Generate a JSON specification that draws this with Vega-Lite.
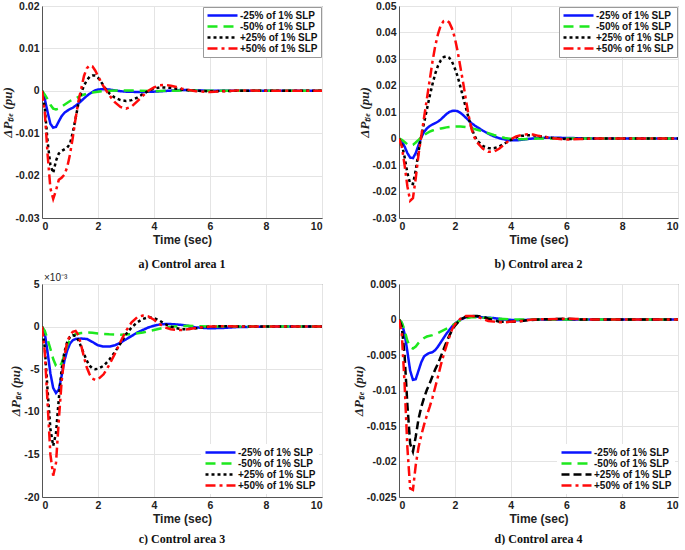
{
  "$schema": "https://vega.github.io/schema/vega-lite/v6.json",
  "padding": {"left": 0, "top": 0, "right": 0, "bottom": 0},
  "background": "white",
  "columns": 2,
  "spacing": {"row": 2, "column": 28},
  "resolve": {
    "scale": {"color": "independent", "strokeDash": "independent"},
    "legend": {"color": "independent", "strokeDash": "independent"}
  },
  "datasets": {
    "a": [
      {"t":0,"s":"m25","v":0},{"t":0.1,"s":"m25","v":-0.002},{"t":0.2,"s":"m25","v":-0.005},{"t":0.3,"s":"m25","v":-0.0078},{"t":0.4,"s":"m25","v":-0.0087},{"t":0.5,"s":"m25","v":-0.0085},{"t":0.6,"s":"m25","v":-0.0072},{"t":0.7,"s":"m25","v":-0.006},{"t":0.8,"s":"m25","v":-0.0052},{"t":0.9,"s":"m25","v":-0.0047},{"t":1.0,"s":"m25","v":-0.0043},{"t":1.1,"s":"m25","v":-0.004},{"t":1.2,"s":"m25","v":-0.0035},{"t":1.3,"s":"m25","v":-0.003},{"t":1.4,"s":"m25","v":-0.0024},{"t":1.5,"s":"m25","v":-0.0018},{"t":1.6,"s":"m25","v":-0.0012},{"t":1.7,"s":"m25","v":-0.0007},{"t":1.8,"s":"m25","v":-0.0003},{"t":1.9,"s":"m25","v":0.0001},{"t":2.0,"s":"m25","v":0.0003},{"t":2.2,"s":"m25","v":0.0004},{"t":2.4,"s":"m25","v":0.0003},{"t":2.6,"s":"m25","v":0.0001},{"t":2.8,"s":"m25","v":-0.0001},{"t":3.0,"s":"m25","v":-0.0002},{"t":3.5,"s":"m25","v":-0.0003},{"t":4.0,"s":"m25","v":-0.0002},{"t":4.5,"s":"m25","v":0},{"t":5.0,"s":"m25","v":0.0002},{"t":5.5,"s":"m25","v":0.0001},{"t":6,"s":"m25","v":0},{"t":8,"s":"m25","v":0},{"t":10,"s":"m25","v":0},
      {"t":0,"s":"m50","v":0},{"t":0.1,"s":"m50","v":-0.0009},{"t":0.2,"s":"m50","v":-0.002},{"t":0.3,"s":"m50","v":-0.0033},{"t":0.4,"s":"m50","v":-0.0042},{"t":0.5,"s":"m50","v":-0.0044},{"t":0.6,"s":"m50","v":-0.0042},{"t":0.8,"s":"m50","v":-0.0033},{"t":1.0,"s":"m50","v":-0.0024},{"t":1.2,"s":"m50","v":-0.0018},{"t":1.4,"s":"m50","v":-0.0011},{"t":1.6,"s":"m50","v":-0.0007},{"t":1.8,"s":"m50","v":-0.0004},{"t":2.0,"s":"m50","v":-0.0002},{"t":2.4,"s":"m50","v":0},{"t":3.0,"s":"m50","v":0.0001},{"t":3.5,"s":"m50","v":0},{"t":4.0,"s":"m50","v":-0.0001},{"t":5.0,"s":"m50","v":0.0001},{"t":6,"s":"m50","v":0},{"t":10,"s":"m50","v":0},
      {"t":0,"s":"p25","v":0},{"t":0.1,"s":"p25","v":-0.004},{"t":0.2,"s":"p25","v":-0.012},{"t":0.3,"s":"p25","v":-0.0175},{"t":0.4,"s":"p25","v":-0.0194},{"t":0.5,"s":"p25","v":-0.0165},{"t":0.6,"s":"p25","v":-0.0148},{"t":0.7,"s":"p25","v":-0.0142},{"t":0.8,"s":"p25","v":-0.0138},{"t":0.9,"s":"p25","v":-0.0134},{"t":1.0,"s":"p25","v":-0.0125},{"t":1.1,"s":"p25","v":-0.0098},{"t":1.2,"s":"p25","v":-0.0065},{"t":1.3,"s":"p25","v":-0.003},{"t":1.4,"s":"p25","v":-0.0005},{"t":1.5,"s":"p25","v":0.0012},{"t":1.6,"s":"p25","v":0.0025},{"t":1.7,"s":"p25","v":0.0033},{"t":1.8,"s":"p25","v":0.0036},{"t":1.9,"s":"p25","v":0.0036},{"t":2.0,"s":"p25","v":0.0031},{"t":2.1,"s":"p25","v":0.0022},{"t":2.2,"s":"p25","v":0.0012},{"t":2.3,"s":"p25","v":0.0002},{"t":2.4,"s":"p25","v":-0.0006},{"t":2.6,"s":"p25","v":-0.0016},{"t":2.8,"s":"p25","v":-0.0022},{"t":3.0,"s":"p25","v":-0.0024},{"t":3.2,"s":"p25","v":-0.0022},{"t":3.4,"s":"p25","v":-0.0016},{"t":3.6,"s":"p25","v":-0.0008},{"t":3.8,"s":"p25","v":0},{"t":4.0,"s":"p25","v":0.0005},{"t":4.2,"s":"p25","v":0.0008},{"t":4.4,"s":"p25","v":0.0008},{"t":4.6,"s":"p25","v":0.0007},{"t":4.8,"s":"p25","v":0.0005},{"t":5.0,"s":"p25","v":0.0003},{"t":5.5,"s":"p25","v":0},{"t":6,"s":"p25","v":-0.0001},{"t":7,"s":"p25","v":0},{"t":10,"s":"p25","v":0},
      {"t":0,"s":"p50","v":0},{"t":0.1,"s":"p50","v":-0.005},{"t":0.2,"s":"p50","v":-0.015},{"t":0.3,"s":"p50","v":-0.023},{"t":0.4,"s":"p50","v":-0.0255},{"t":0.5,"s":"p50","v":-0.0235},{"t":0.6,"s":"p50","v":-0.021},{"t":0.7,"s":"p50","v":-0.0205},{"t":0.8,"s":"p50","v":-0.0198},{"t":0.9,"s":"p50","v":-0.018},{"t":1.0,"s":"p50","v":-0.015},{"t":1.1,"s":"p50","v":-0.011},{"t":1.2,"s":"p50","v":-0.0065},{"t":1.3,"s":"p50","v":-0.0025},{"t":1.4,"s":"p50","v":0.0005},{"t":1.5,"s":"p50","v":0.0035},{"t":1.6,"s":"p50","v":0.0053},{"t":1.7,"s":"p50","v":0.006},{"t":1.8,"s":"p50","v":0.0058},{"t":1.9,"s":"p50","v":0.0048},{"t":2.0,"s":"p50","v":0.0035},{"t":2.1,"s":"p50","v":0.0022},{"t":2.2,"s":"p50","v":0.001},{"t":2.3,"s":"p50","v":0},{"t":2.4,"s":"p50","v":-0.001},{"t":2.6,"s":"p50","v":-0.0027},{"t":2.8,"s":"p50","v":-0.0038},{"t":3.0,"s":"p50","v":-0.0042},{"t":3.2,"s":"p50","v":-0.0037},{"t":3.4,"s":"p50","v":-0.0025},{"t":3.6,"s":"p50","v":-0.0012},{"t":3.8,"s":"p50","v":0},{"t":4.0,"s":"p50","v":0.0008},{"t":4.2,"s":"p50","v":0.0013},{"t":4.4,"s":"p50","v":0.0014},{"t":4.6,"s":"p50","v":0.0012},{"t":4.8,"s":"p50","v":0.0009},{"t":5.0,"s":"p50","v":0.0005},{"t":5.5,"s":"p50","v":-0.0001},{"t":6.0,"s":"p50","v":-0.0003},{"t":6.5,"s":"p50","v":-0.0001},{"t":7,"s":"p50","v":0.0001},{"t":8,"s":"p50","v":0},{"t":10,"s":"p50","v":0}
    ],
    "b": [
      {"t":0,"s":"m25","v":0},{"t":0.1,"s":"m25","v":-0.001},{"t":0.2,"s":"m25","v":-0.003},{"t":0.3,"s":"m25","v":-0.0055},{"t":0.4,"s":"m25","v":-0.0072},{"t":0.5,"s":"m25","v":-0.0074},{"t":0.6,"s":"m25","v":-0.0055},{"t":0.7,"s":"m25","v":-0.0025},{"t":0.8,"s":"m25","v":0.0005},{"t":0.9,"s":"m25","v":0.0025},{"t":1.0,"s":"m25","v":0.0038},{"t":1.1,"s":"m25","v":0.0047},{"t":1.2,"s":"m25","v":0.0053},{"t":1.3,"s":"m25","v":0.0058},{"t":1.4,"s":"m25","v":0.0064},{"t":1.5,"s":"m25","v":0.0072},{"t":1.6,"s":"m25","v":0.0082},{"t":1.7,"s":"m25","v":0.0092},{"t":1.8,"s":"m25","v":0.01},{"t":1.9,"s":"m25","v":0.0104},{"t":2.0,"s":"m25","v":0.0105},{"t":2.1,"s":"m25","v":0.0103},{"t":2.2,"s":"m25","v":0.0097},{"t":2.3,"s":"m25","v":0.0088},{"t":2.4,"s":"m25","v":0.0078},{"t":2.5,"s":"m25","v":0.0068},{"t":2.6,"s":"m25","v":0.0058},{"t":2.7,"s":"m25","v":0.005},{"t":2.8,"s":"m25","v":0.0043},{"t":3.0,"s":"m25","v":0.003},{"t":3.2,"s":"m25","v":0.0018},{"t":3.4,"s":"m25","v":0.0008},{"t":3.6,"s":"m25","v":0.0001},{"t":3.8,"s":"m25","v":-0.0004},{"t":4.0,"s":"m25","v":-0.0007},{"t":4.2,"s":"m25","v":-0.0007},{"t":4.4,"s":"m25","v":-0.0005},{"t":4.6,"s":"m25","v":-0.0002},{"t":4.8,"s":"m25","v":0},{"t":5.0,"s":"m25","v":0.0002},{"t":5.5,"s":"m25","v":0.0003},{"t":6.0,"s":"m25","v":0.0002},{"t":6.5,"s":"m25","v":0.0001},{"t":7,"s":"m25","v":0},{"t":10,"s":"m25","v":0},
      {"t":0,"s":"m50","v":0},{"t":0.1,"s":"m50","v":-0.0005},{"t":0.2,"s":"m50","v":-0.0013},{"t":0.3,"s":"m50","v":-0.0022},{"t":0.4,"s":"m50","v":-0.0026},{"t":0.5,"s":"m50","v":-0.0024},{"t":0.6,"s":"m50","v":-0.0015},{"t":0.7,"s":"m50","v":-0.0005},{"t":0.8,"s":"m50","v":0.0005},{"t":0.9,"s":"m50","v":0.0013},{"t":1.0,"s":"m50","v":0.002},{"t":1.1,"s":"m50","v":0.0026},{"t":1.2,"s":"m50","v":0.003},{"t":1.3,"s":"m50","v":0.0033},{"t":1.4,"s":"m50","v":0.0036},{"t":1.5,"s":"m50","v":0.0038},{"t":1.6,"s":"m50","v":0.004},{"t":1.7,"s":"m50","v":0.0042},{"t":1.8,"s":"m50","v":0.0043},{"t":1.9,"s":"m50","v":0.0044},{"t":2.0,"s":"m50","v":0.0045},{"t":2.2,"s":"m50","v":0.0045},{"t":2.4,"s":"m50","v":0.0043},{"t":2.6,"s":"m50","v":0.0039},{"t":2.8,"s":"m50","v":0.0033},{"t":3.0,"s":"m50","v":0.0027},{"t":3.2,"s":"m50","v":0.002},{"t":3.4,"s":"m50","v":0.0013},{"t":3.6,"s":"m50","v":0.0007},{"t":3.8,"s":"m50","v":0.0002},{"t":4.0,"s":"m50","v":-0.0001},{"t":4.2,"s":"m50","v":-0.0003},{"t":4.4,"s":"m50","v":-0.0003},{"t":4.6,"s":"m50","v":-0.0002},{"t":4.8,"s":"m50","v":-0.0001},{"t":5,"s":"m50","v":0},{"t":10,"s":"m50","v":0},
      {"t":0,"s":"p25","v":0},{"t":0.1,"s":"p25","v":-0.002},{"t":0.2,"s":"p25","v":-0.007},{"t":0.3,"s":"p25","v":-0.013},{"t":0.4,"s":"p25","v":-0.017},{"t":0.5,"s":"p25","v":-0.0172},{"t":0.6,"s":"p25","v":-0.012},{"t":0.7,"s":"p25","v":-0.005},{"t":0.8,"s":"p25","v":0.001},{"t":0.9,"s":"p25","v":0.006},{"t":1.0,"s":"p25","v":0.011},{"t":1.1,"s":"p25","v":0.016},{"t":1.2,"s":"p25","v":0.0205},{"t":1.3,"s":"p25","v":0.0245},{"t":1.4,"s":"p25","v":0.0275},{"t":1.5,"s":"p25","v":0.0295},{"t":1.6,"s":"p25","v":0.0307},{"t":1.7,"s":"p25","v":0.031},{"t":1.8,"s":"p25","v":0.0305},{"t":1.9,"s":"p25","v":0.029},{"t":2.0,"s":"p25","v":0.0265},{"t":2.1,"s":"p25","v":0.0235},{"t":2.2,"s":"p25","v":0.0195},{"t":2.3,"s":"p25","v":0.0155},{"t":2.4,"s":"p25","v":0.0115},{"t":2.5,"s":"p25","v":0.0075},{"t":2.6,"s":"p25","v":0.004},{"t":2.7,"s":"p25","v":0.0012},{"t":2.8,"s":"p25","v":-0.0008},{"t":3.0,"s":"p25","v":-0.0028},{"t":3.2,"s":"p25","v":-0.0036},{"t":3.4,"s":"p25","v":-0.0037},{"t":3.6,"s":"p25","v":-0.003},{"t":3.8,"s":"p25","v":-0.0018},{"t":4.0,"s":"p25","v":-0.0006},{"t":4.2,"s":"p25","v":0.0004},{"t":4.4,"s":"p25","v":0.001},{"t":4.6,"s":"p25","v":0.0012},{"t":4.8,"s":"p25","v":0.0012},{"t":5.0,"s":"p25","v":0.0009},{"t":5.5,"s":"p25","v":0.0002},{"t":6.0,"s":"p25","v":-0.0002},{"t":6.5,"s":"p25","v":-0.0001},{"t":7,"s":"p25","v":0},{"t":10,"s":"p25","v":0},
      {"t":0,"s":"p50","v":0},{"t":0.1,"s":"p50","v":-0.003},{"t":0.2,"s":"p50","v":-0.01},{"t":0.3,"s":"p50","v":-0.018},{"t":0.4,"s":"p50","v":-0.0235},{"t":0.5,"s":"p50","v":-0.0225},{"t":0.6,"s":"p50","v":-0.015},{"t":0.7,"s":"p50","v":-0.006},{"t":0.8,"s":"p50","v":0.001},{"t":0.9,"s":"p50","v":0.008},{"t":1.0,"s":"p50","v":0.015},{"t":1.1,"s":"p50","v":0.022},{"t":1.2,"s":"p50","v":0.029},{"t":1.3,"s":"p50","v":0.035},{"t":1.4,"s":"p50","v":0.0395},{"t":1.5,"s":"p50","v":0.0428},{"t":1.6,"s":"p50","v":0.0443},{"t":1.7,"s":"p50","v":0.0446},{"t":1.8,"s":"p50","v":0.0438},{"t":1.9,"s":"p50","v":0.0415},{"t":2.0,"s":"p50","v":0.038},{"t":2.1,"s":"p50","v":0.033},{"t":2.2,"s":"p50","v":0.027},{"t":2.3,"s":"p50","v":0.021},{"t":2.4,"s":"p50","v":0.0145},{"t":2.5,"s":"p50","v":0.0085},{"t":2.6,"s":"p50","v":0.0035},{"t":2.7,"s":"p50","v":0.0005},{"t":2.8,"s":"p50","v":-0.0015},{"t":3.0,"s":"p50","v":-0.0038},{"t":3.2,"s":"p50","v":-0.005},{"t":3.4,"s":"p50","v":-0.005},{"t":3.6,"s":"p50","v":-0.0038},{"t":3.8,"s":"p50","v":-0.002},{"t":4.0,"s":"p50","v":-0.0003},{"t":4.2,"s":"p50","v":0.0008},{"t":4.4,"s":"p50","v":0.0013},{"t":4.6,"s":"p50","v":0.0016},{"t":4.8,"s":"p50","v":0.0015},{"t":5.0,"s":"p50","v":0.001},{"t":5.5,"s":"p50","v":0.0001},{"t":6.0,"s":"p50","v":-0.0004},{"t":6.5,"s":"p50","v":-0.0002},{"t":7,"s":"p50","v":0},{"t":10,"s":"p50","v":0}
    ],
    "c": [
      {"t":0,"s":"m25","v":0},{"t":0.1,"s":"m25","v":-0.8},{"t":0.2,"s":"m25","v":-3},{"t":0.3,"s":"m25","v":-5.5},{"t":0.4,"s":"m25","v":-7.2},{"t":0.5,"s":"m25","v":-7.8},{"t":0.6,"s":"m25","v":-7.4},{"t":0.7,"s":"m25","v":-5.8},{"t":0.8,"s":"m25","v":-4.0},{"t":0.9,"s":"m25","v":-2.8},{"t":1.0,"s":"m25","v":-2.0},{"t":1.1,"s":"m25","v":-1.6},{"t":1.2,"s":"m25","v":-1.45},{"t":1.4,"s":"m25","v":-1.4},{"t":1.6,"s":"m25","v":-1.45},{"t":1.8,"s":"m25","v":-1.8},{"t":2.0,"s":"m25","v":-2.2},{"t":2.2,"s":"m25","v":-2.35},{"t":2.4,"s":"m25","v":-2.35},{"t":2.6,"s":"m25","v":-2.2},{"t":2.8,"s":"m25","v":-1.9},{"t":3.0,"s":"m25","v":-1.5},{"t":3.2,"s":"m25","v":-1.1},{"t":3.4,"s":"m25","v":-0.7},{"t":3.6,"s":"m25","v":-0.4},{"t":3.8,"s":"m25","v":-0.1},{"t":4.0,"s":"m25","v":0.1},{"t":4.2,"s":"m25","v":0.25},{"t":4.4,"s":"m25","v":0.3},{"t":4.6,"s":"m25","v":0.3},{"t":4.8,"s":"m25","v":0.25},{"t":5.0,"s":"m25","v":0.2},{"t":5.2,"s":"m25","v":0.1},{"t":5.5,"s":"m25","v":-0.1},{"t":6.0,"s":"m25","v":-0.2},{"t":6.5,"s":"m25","v":-0.15},{"t":7,"s":"m25","v":-0.05},{"t":8,"s":"m25","v":0},{"t":10,"s":"m25","v":0},
      {"t":0,"s":"m50","v":0},{"t":0.1,"s":"m50","v":-0.5},{"t":0.2,"s":"m50","v":-1.5},{"t":0.3,"s":"m50","v":-2.6},{"t":0.4,"s":"m50","v":-3.8},{"t":0.5,"s":"m50","v":-4.6},{"t":0.6,"s":"m50","v":-4.8},{"t":0.7,"s":"m50","v":-4.3},{"t":0.8,"s":"m50","v":-3.3},{"t":0.9,"s":"m50","v":-2.2},{"t":1.0,"s":"m50","v":-1.5},{"t":1.1,"s":"m50","v":-1.1},{"t":1.2,"s":"m50","v":-0.9},{"t":1.4,"s":"m50","v":-0.75},{"t":1.6,"s":"m50","v":-0.7},{"t":1.8,"s":"m50","v":-0.72},{"t":2.0,"s":"m50","v":-0.8},{"t":2.4,"s":"m50","v":-0.9},{"t":2.8,"s":"m50","v":-0.95},{"t":3.2,"s":"m50","v":-0.9},{"t":3.6,"s":"m50","v":-0.7},{"t":4.0,"s":"m50","v":-0.4},{"t":4.4,"s":"m50","v":-0.1},{"t":4.8,"s":"m50","v":0.05},{"t":5.2,"s":"m50","v":0.1},{"t":5.6,"s":"m50","v":0.05},{"t":6,"s":"m50","v":0},{"t":10,"s":"m50","v":0},
      {"t":0,"s":"p25","v":0},{"t":0.1,"s":"p25","v":-2.5},{"t":0.2,"s":"p25","v":-7.5},{"t":0.3,"s":"p25","v":-12},{"t":0.4,"s":"p25","v":-14},{"t":0.5,"s":"p25","v":-12.5},{"t":0.6,"s":"p25","v":-8.5},{"t":0.7,"s":"p25","v":-5},{"t":0.8,"s":"p25","v":-3},{"t":0.9,"s":"p25","v":-1.8},{"t":1.0,"s":"p25","v":-1.2},{"t":1.1,"s":"p25","v":-1.0},{"t":1.2,"s":"p25","v":-1.1},{"t":1.3,"s":"p25","v":-1.6},{"t":1.4,"s":"p25","v":-2.4},{"t":1.5,"s":"p25","v":-3.2},{"t":1.6,"s":"p25","v":-4.0},{"t":1.7,"s":"p25","v":-4.6},{"t":1.8,"s":"p25","v":-4.9},{"t":1.9,"s":"p25","v":-5.0},{"t":2.0,"s":"p25","v":-4.95},{"t":2.2,"s":"p25","v":-4.6},{"t":2.4,"s":"p25","v":-3.9},{"t":2.6,"s":"p25","v":-3.0},{"t":2.8,"s":"p25","v":-2.0},{"t":3.0,"s":"p25","v":-0.9},{"t":3.2,"s":"p25","v":-0.1},{"t":3.4,"s":"p25","v":0.5},{"t":3.6,"s":"p25","v":0.9},{"t":3.8,"s":"p25","v":1.1},{"t":4.0,"s":"p25","v":1.0},{"t":4.2,"s":"p25","v":0.7},{"t":4.4,"s":"p25","v":0.3},{"t":4.6,"s":"p25","v":0},{"t":4.8,"s":"p25","v":-0.2},{"t":5.0,"s":"p25","v":-0.3},{"t":5.2,"s":"p25","v":-0.3},{"t":5.5,"s":"p25","v":-0.2},{"t":6.0,"s":"p25","v":0},{"t":6.5,"s":"p25","v":0.05},{"t":7,"s":"p25","v":0},{"t":10,"s":"p25","v":0},
      {"t":0,"s":"p50","v":0},{"t":0.1,"s":"p50","v":-3},{"t":0.2,"s":"p50","v":-9},{"t":0.3,"s":"p50","v":-15},{"t":0.4,"s":"p50","v":-17.5},{"t":0.5,"s":"p50","v":-16},{"t":0.6,"s":"p50","v":-11},{"t":0.7,"s":"p50","v":-6.5},{"t":0.8,"s":"p50","v":-3.5},{"t":0.9,"s":"p50","v":-1.8},{"t":1.0,"s":"p50","v":-1.0},{"t":1.1,"s":"p50","v":-0.6},{"t":1.2,"s":"p50","v":-0.5},{"t":1.3,"s":"p50","v":-1.0},{"t":1.4,"s":"p50","v":-2.2},{"t":1.5,"s":"p50","v":-3.6},{"t":1.6,"s":"p50","v":-4.8},{"t":1.7,"s":"p50","v":-5.6},{"t":1.8,"s":"p50","v":-6.1},{"t":1.9,"s":"p50","v":-6.25},{"t":2.0,"s":"p50","v":-6.2},{"t":2.2,"s":"p50","v":-5.6},{"t":2.4,"s":"p50","v":-4.5},{"t":2.6,"s":"p50","v":-3.2},{"t":2.8,"s":"p50","v":-1.8},{"t":3.0,"s":"p50","v":-0.5},{"t":3.2,"s":"p50","v":0.5},{"t":3.4,"s":"p50","v":1.1},{"t":3.6,"s":"p50","v":1.3},{"t":3.8,"s":"p50","v":1.2},{"t":4.0,"s":"p50","v":0.8},{"t":4.2,"s":"p50","v":0.3},{"t":4.4,"s":"p50","v":-0.1},{"t":4.6,"s":"p50","v":-0.3},{"t":4.8,"s":"p50","v":-0.4},{"t":5.0,"s":"p50","v":-0.4},{"t":5.2,"s":"p50","v":-0.3},{"t":5.5,"s":"p50","v":-0.15},{"t":6,"s":"p50","v":0},{"t":6.5,"s":"p50","v":0.05},{"t":7,"s":"p50","v":0},{"t":10,"s":"p50","v":0}
    ],
    "d": [
      {"t":0,"s":"m25","v":0},{"t":0.1,"s":"m25","v":-0.0005},{"t":0.2,"s":"m25","v":-0.002},{"t":0.3,"s":"m25","v":-0.0045},{"t":0.4,"s":"m25","v":-0.0072},{"t":0.5,"s":"m25","v":-0.0085},{"t":0.6,"s":"m25","v":-0.0084},{"t":0.7,"s":"m25","v":-0.0072},{"t":0.8,"s":"m25","v":-0.006},{"t":0.9,"s":"m25","v":-0.0052},{"t":1.0,"s":"m25","v":-0.0049},{"t":1.1,"s":"m25","v":-0.0047},{"t":1.2,"s":"m25","v":-0.0046},{"t":1.3,"s":"m25","v":-0.0043},{"t":1.4,"s":"m25","v":-0.0038},{"t":1.5,"s":"m25","v":-0.0032},{"t":1.6,"s":"m25","v":-0.0026},{"t":1.7,"s":"m25","v":-0.002},{"t":1.8,"s":"m25","v":-0.0015},{"t":1.9,"s":"m25","v":-0.001},{"t":2.0,"s":"m25","v":-0.0006},{"t":2.2,"s":"m25","v":0},{"t":2.4,"s":"m25","v":0.0003},{"t":2.6,"s":"m25","v":0.0004},{"t":2.8,"s":"m25","v":0.0004},{"t":3.0,"s":"m25","v":0.0003},{"t":3.4,"s":"m25","v":0.0002},{"t":3.8,"s":"m25","v":0},{"t":4.2,"s":"m25","v":-0.0001},{"t":5,"s":"m25","v":0},{"t":10,"s":"m25","v":0},
      {"t":0,"s":"m50","v":0},{"t":0.1,"s":"m50","v":-0.0004},{"t":0.2,"s":"m50","v":-0.0015},{"t":0.3,"s":"m50","v":-0.003},{"t":0.4,"s":"m50","v":-0.0039},{"t":0.5,"s":"m50","v":-0.0041},{"t":0.6,"s":"m50","v":-0.0038},{"t":0.7,"s":"m50","v":-0.0033},{"t":0.8,"s":"m50","v":-0.0029},{"t":0.9,"s":"m50","v":-0.0026},{"t":1.0,"s":"m50","v":-0.0024},{"t":1.2,"s":"m50","v":-0.0022},{"t":1.4,"s":"m50","v":-0.0019},{"t":1.6,"s":"m50","v":-0.0015},{"t":1.8,"s":"m50","v":-0.0011},{"t":2.0,"s":"m50","v":-0.0006},{"t":2.2,"s":"m50","v":-0.0001},{"t":2.4,"s":"m50","v":0.0002},{"t":2.6,"s":"m50","v":0.0003},{"t":2.8,"s":"m50","v":0.0003},{"t":3.2,"s":"m50","v":0.0002},{"t":3.6,"s":"m50","v":0.0001},{"t":4.0,"s":"m50","v":0},{"t":10,"s":"m50","v":0},
      {"t":0,"s":"p25","v":0},{"t":0.1,"s":"p25","v":-0.001},{"t":0.2,"s":"p25","v":-0.005},{"t":0.3,"s":"p25","v":-0.012},{"t":0.4,"s":"p25","v":-0.0175},{"t":0.5,"s":"p25","v":-0.0186},{"t":0.6,"s":"p25","v":-0.0165},{"t":0.7,"s":"p25","v":-0.014},{"t":0.8,"s":"p25","v":-0.0123},{"t":0.9,"s":"p25","v":-0.011},{"t":1.0,"s":"p25","v":-0.0099},{"t":1.1,"s":"p25","v":-0.009},{"t":1.2,"s":"p25","v":-0.008},{"t":1.3,"s":"p25","v":-0.007},{"t":1.4,"s":"p25","v":-0.0062},{"t":1.5,"s":"p25","v":-0.0052},{"t":1.6,"s":"p25","v":-0.0042},{"t":1.7,"s":"p25","v":-0.0032},{"t":1.8,"s":"p25","v":-0.0023},{"t":1.9,"s":"p25","v":-0.0015},{"t":2.0,"s":"p25","v":-0.0009},{"t":2.2,"s":"p25","v":0},{"t":2.4,"s":"p25","v":0.0004},{"t":2.6,"s":"p25","v":0.0005},{"t":2.8,"s":"p25","v":0.0005},{"t":3.0,"s":"p25","v":0.0004},{"t":3.2,"s":"p25","v":0.0001},{"t":3.4,"s":"p25","v":-0.0001},{"t":3.6,"s":"p25","v":-0.0003},{"t":3.8,"s":"p25","v":-0.0003},{"t":4.2,"s":"p25","v":-0.0003},{"t":4.6,"s":"p25","v":-0.0001},{"t":5,"s":"p25","v":0},{"t":6,"s":"p25","v":0.0001},{"t":6.5,"s":"p25","v":0},{"t":10,"s":"p25","v":0},
      {"t":0,"s":"p50","v":0},{"t":0.1,"s":"p50","v":-0.002},{"t":0.2,"s":"p50","v":-0.009},{"t":0.3,"s":"p50","v":-0.018},{"t":0.4,"s":"p50","v":-0.0238},{"t":0.5,"s":"p50","v":-0.024},{"t":0.6,"s":"p50","v":-0.0205},{"t":0.7,"s":"p50","v":-0.018},{"t":0.8,"s":"p50","v":-0.0163},{"t":0.9,"s":"p50","v":-0.0148},{"t":1.0,"s":"p50","v":-0.0135},{"t":1.1,"s":"p50","v":-0.0123},{"t":1.2,"s":"p50","v":-0.011},{"t":1.3,"s":"p50","v":-0.0095},{"t":1.4,"s":"p50","v":-0.008},{"t":1.5,"s":"p50","v":-0.0064},{"t":1.6,"s":"p50","v":-0.005},{"t":1.7,"s":"p50","v":-0.0037},{"t":1.8,"s":"p50","v":-0.0025},{"t":1.9,"s":"p50","v":-0.0014},{"t":2.0,"s":"p50","v":-0.0007},{"t":2.2,"s":"p50","v":0.0001},{"t":2.4,"s":"p50","v":0.0005},{"t":2.6,"s":"p50","v":0.0005},{"t":2.8,"s":"p50","v":0.0004},{"t":3.0,"s":"p50","v":0.0001},{"t":3.2,"s":"p50","v":-0.0002},{"t":3.4,"s":"p50","v":-0.0003},{"t":3.6,"s":"p50","v":-0.0004},{"t":3.8,"s":"p50","v":-0.0004},{"t":4.0,"s":"p50","v":-0.0003},{"t":4.4,"s":"p50","v":-0.0002},{"t":4.8,"s":"p50","v":0},{"t":6,"s":"p50","v":0.0001},{"t":7,"s":"p50","v":0},{"t":10,"s":"p50","v":0}
    ]
  },
  "concat": [
    {
      "title": {"text": "a) Control area 1", "offset": 13},
      "width": 280, "height": 212,
      "data": {"name": "a"},
      "mark": {"type": "line", "strokeWidth": 2.5, "clip": true},
      "encoding": {
        "x": {"field": "t", "type": "quantitative", "scale": {"domain": [0, 10], "nice": false}, "axis": {"title": "Time (sec)", "values": [0, 2, 4, 6, 8, 10]}},
        "y": {"field": "v", "type": "quantitative", "scale": {"domain": [-0.03, 0.02], "nice": false, "zero": false}, "axis": {"title": "ΔPₜᵢₑ (pu)", "values": [-0.03, -0.02, -0.01, 0, 0.01, 0.02], "labelExpr": "'' + datum.value"}},
        "color": {"field": "s", "type": "nominal", "scale": {"domain": ["m25", "m50", "p25", "p50"], "range": ["#0a14ff", "#1ee81e", "#000000", "#ff0a0a"]}, "legend": {"orient": "top-right", "offset": 1, "strokeColor": "#999", "labelExpr": "datum.label == 'm25' ? '-25% of 1% SLP' : datum.label == 'm50' ? '-50% of 1% SLP' : datum.label == 'p25' ? '+25% of 1% SLP' : '+50% of 1% SLP'"}},
        "strokeDash": {"field": "s", "type": "nominal", "scale": {"domain": ["m25", "m50", "p25", "p50"], "range": [[1, 0], [10, 6], [3, 3], [10, 4, 3, 4]]}, "legend": {"orient": "top-right", "offset": 1, "strokeColor": "#999", "labelExpr": "datum.label == 'm25' ? '-25% of 1% SLP' : datum.label == 'm50' ? '-50% of 1% SLP' : datum.label == 'p25' ? '+25% of 1% SLP' : '+50% of 1% SLP'"}}
      }
    },
    {
      "title": {"text": "b) Control area 2", "offset": 13},
      "width": 279, "height": 212,
      "data": {"name": "b"},
      "mark": {"type": "line", "strokeWidth": 2.5, "clip": true},
      "encoding": {
        "x": {"field": "t", "type": "quantitative", "scale": {"domain": [0, 10], "nice": false}, "axis": {"title": "Time (sec)", "values": [0, 2, 4, 6, 8, 10]}},
        "y": {"field": "v", "type": "quantitative", "scale": {"domain": [-0.03, 0.05], "nice": false, "zero": false}, "axis": {"title": "ΔPₜᵢₑ (pu)", "values": [-0.03, -0.02, -0.01, 0, 0.01, 0.02, 0.03, 0.04, 0.05], "labelExpr": "'' + datum.value"}},
        "color": {"field": "s", "type": "nominal", "scale": {"domain": ["m25", "m50", "p25", "p50"], "range": ["#0a14ff", "#1ee81e", "#000000", "#ff0a0a"]}, "legend": {"orient": "top-right", "offset": 1, "strokeColor": "#999", "labelExpr": "datum.label == 'm25' ? '-25% of 1% SLP' : datum.label == 'm50' ? '-50% of 1% SLP' : datum.label == 'p25' ? '+25% of 1% SLP' : '+50% of 1% SLP'"}},
        "strokeDash": {"field": "s", "type": "nominal", "scale": {"domain": ["m25", "m50", "p25", "p50"], "range": [[1, 0], [10, 6], [3, 3], [10, 4, 3, 4]]}, "legend": {"orient": "top-right", "offset": 1, "strokeColor": "#999", "labelExpr": "datum.label == 'm25' ? '-25% of 1% SLP' : datum.label == 'm50' ? '-50% of 1% SLP' : datum.label == 'p25' ? '+25% of 1% SLP' : '+50% of 1% SLP'"}}
      }
    },
    {
      "title": {"text": "c) Control area 3", "offset": 9},
      "width": 280, "height": 213,
      "layer": [
        {
          "data": {"name": "c"},
          "mark": {"type": "line", "strokeWidth": 2.5, "clip": true},
          "encoding": {
            "x": {"field": "t", "type": "quantitative", "scale": {"domain": [0, 10], "nice": false}, "axis": {"title": "Time (sec)", "values": [0, 2, 4, 6, 8, 10]}},
            "y": {"field": "v", "type": "quantitative", "scale": {"domain": [-20, 5], "nice": false, "zero": false}, "axis": {"title": "ΔPₜᵢₑ (pu)", "values": [-20, -15, -10, -5, 0, 5], "labelExpr": "'' + datum.value"}},
            "color": {"field": "s", "type": "nominal", "scale": {"domain": ["m25", "m50", "p25", "p50"], "range": ["#0a14ff", "#1ee81e", "#000000", "#ff0a0a"]}, "legend": {"orient": "bottom-right", "labelExpr": "datum.label == 'm25' ? '-25% of 1% SLP' : datum.label == 'm50' ? '-50% of 1% SLP' : datum.label == 'p25' ? '+25% of 1% SLP' : '+50% of 1% SLP'"}},
            "strokeDash": {"field": "s", "type": "nominal", "scale": {"domain": ["m25", "m50", "p25", "p50"], "range": [[1, 0], [10, 6], [3, 3], [10, 4, 3, 4]]}, "legend": {"orient": "bottom-right", "labelExpr": "datum.label == 'm25' ? '-25% of 1% SLP' : datum.label == 'm50' ? '-50% of 1% SLP' : datum.label == 'p25' ? '+25% of 1% SLP' : '+50% of 1% SLP'"}}
          }
        },
        {
          "data": {"values": [{"label": "×10⁻³"}]},
          "mark": {"type": "text", "align": "left", "baseline": "bottom", "dx": 2, "dy": -1, "font": "Liberation Sans", "fontSize": 10, "color": "#222"},
          "encoding": {
            "x": {"datum": 0},
            "y": {"datum": 5},
            "text": {"field": "label"}
          }
        }
      ]
    },
    {
      "title": {"text": "d) Control area 4", "offset": 9},
      "width": 279, "height": 213,
      "data": {"name": "d"},
      "mark": {"type": "line", "strokeWidth": 2.5, "clip": true},
      "encoding": {
        "x": {"field": "t", "type": "quantitative", "scale": {"domain": [0, 10], "nice": false}, "axis": {"title": "Time (sec)", "values": [0, 2, 4, 6, 8, 10]}},
        "y": {"field": "v", "type": "quantitative", "scale": {"domain": [-0.025, 0.005], "nice": false, "zero": false}, "axis": {"title": "ΔPₜᵢₑ (pu)", "values": [-0.025, -0.02, -0.015, -0.01, -0.005, 0, 0.005], "labelExpr": "'' + datum.value"}},
        "color": {"field": "s", "type": "nominal", "scale": {"domain": ["m25", "m50", "p25", "p50"], "range": ["#0a14ff", "#1ee81e", "#000000", "#ff0a0a"]}, "legend": {"orient": "bottom-right", "labelExpr": "datum.label == 'm25' ? '-25% of 1% SLP' : datum.label == 'm50' ? '-50% of 1% SLP' : datum.label == 'p25' ? '+25% of 1% SLP' : '+50% of 1% SLP'"}},
        "strokeDash": {"field": "s", "type": "nominal", "scale": {"domain": ["m25", "m50", "p25", "p50"], "range": [[1, 0], [10, 6], [8, 4], [10, 4, 3, 4]]}, "legend": {"orient": "bottom-right", "labelExpr": "datum.label == 'm25' ? '-25% of 1% SLP' : datum.label == 'm50' ? '-50% of 1% SLP' : datum.label == 'p25' ? '+25% of 1% SLP' : '+50% of 1% SLP'"}}
      }
    }
  ],
  "config": {
    "view": {"stroke": "#666", "strokeWidth": 1},
    "axis": {
      "labelFont": "Liberation Sans", "labelFontWeight": "bold", "labelFontSize": 10.5, "labelColor": "#222",
      "titleFont": "Liberation Sans", "titleFontWeight": "bold", "titleFontSize": 12, "titleColor": "#222",
      "gridColor": "#e4e4e4", "domainColor": "#555", "ticks": false, "labelPadding": 3
    },
    "axisX": {"titlePadding": 3},
    "axisY": {"titleFont": "Liberation Serif", "titleFontStyle": "italic", "titleFontSize": 13, "titlePadding": 1},
    "legend": {
      "title": null, "symbolType": "stroke", "symbolSize": 900, "symbolStrokeWidth": 2.5, "clipHeight": 11,
      "labelFont": "Liberation Sans", "labelFontWeight": "bold", "labelFontSize": 10, "labelColor": "#111", "labelOffset": 1,
      "fillColor": "white", "padding": 3, "offset": 3, "rowPadding": 0
    },
    "title": {"orient": "bottom", "anchor": "middle", "font": "Liberation Serif", "fontSize": 12, "fontWeight": "bold", "color": "#111"}
  }
}
